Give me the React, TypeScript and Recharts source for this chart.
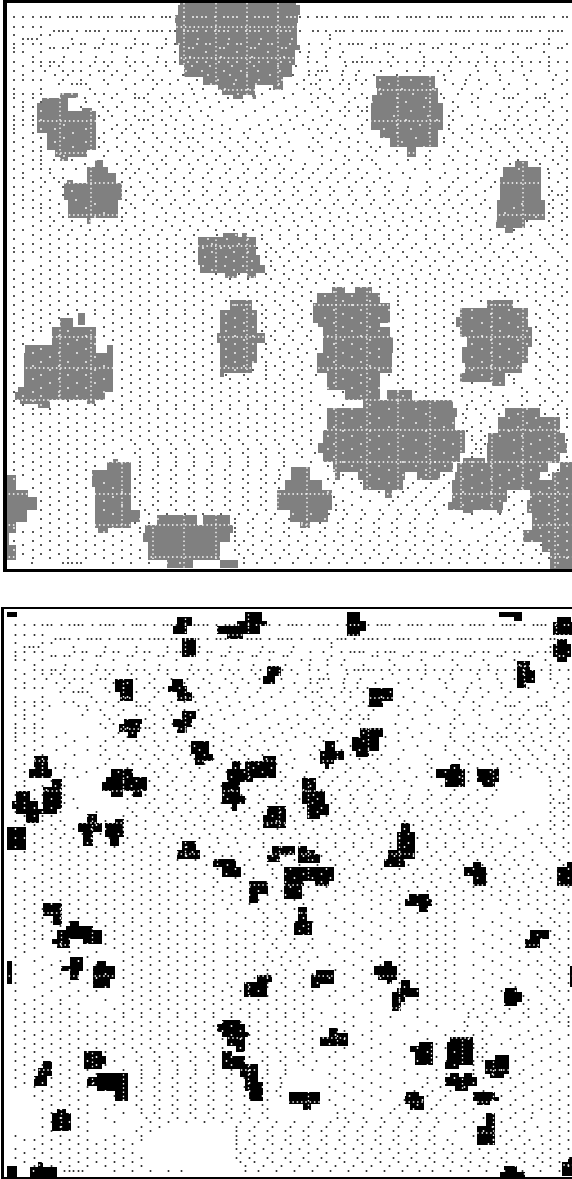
import React from "react";
import { ScatterChart, Scatter, XAxis, YAxis, ReferenceArea, ReferenceLine } from "recharts";

// [y0, y1, x0, x1] spans of the upper (grey) patches
const upperPatches = [
[3,12,180,296],[5,15,178,300],[15,23,175,298],[23,45,176,297],[45,50,179,300],[50,65,179,295],[65,77,184,292],[77,85,203,283],[85,90,218,255],[85,90,273,283],[90,95,222,255],[95,99,233,243],[95,99,252,256],
[76,88,376,435],[88,95,377,438],[95,103,372,438],[103,130,371,443],[130,138,380,438],[138,147,390,438],[147,157,407,416],
[161,167,515,528],[167,177,503,541],[177,200,500,541],[200,220,497,545],[220,228,496,525],[228,233,505,513],
[233,237,223,238],[233,237,242,247],[237,255,198,256],[255,265,198,260],[265,273,200,265],[273,278,225,237],[273,278,247,256],
[93,98,60,78],[98,103,42,68],[103,111,37,68],[108,111,82,92],[111,133,37,96],[133,150,47,96],[150,157,55,87],[157,161,60,68],
[160,167,95,103],[167,173,87,108],[173,183,87,116],[180,183,67,73],[183,200,64,122],[200,218,68,118],[218,224,87,91],
[300,310,230,252],[310,333,220,257],[333,343,217,265],[343,363,220,257],[363,373,220,252],[373,377,220,224],
[313,325,78,85],[318,327,60,73],[327,345,52,96],[345,353,25,96],[345,353,107,113],[353,387,24,113],[387,392,18,113],[392,400,15,105],[400,404,20,50],[400,404,87,95],[404,408,38,50],
[459,462,113,118],[462,470,107,131],[470,487,92,131],[487,510,95,131],[510,522,95,140],[522,528,95,131],[528,533,98,108],
[475,490,5,16],[490,497,5,28],[497,510,5,37],[510,522,5,27],[522,533,5,16],[533,545,5,9],[545,560,5,16],
[515,525,157,197],[515,525,203,230],[525,533,145,233],[533,542,143,230],[542,560,148,220],[560,568,167,193],[560,568,220,238],
[467,480,291,310],[480,490,285,322],[490,510,277,332],[510,522,290,328],[522,528,300,310],
[287,293,332,345],[287,293,355,372],[293,303,317,380],[303,323,313,390],[320,327,318,380],[327,337,323,390],[337,353,323,393],[353,373,317,392],[373,390,327,380],[390,400,345,380],
[390,400,387,412],[400,408,363,453],[408,417,327,457],[417,430,327,455],[430,443,323,465],[443,453,318,465],[453,462,323,460],[462,472,333,453],[472,480,335,340],[472,480,358,405],[472,480,417,440],[480,490,363,403],[490,498,385,392],
[300,308,487,513],[308,317,460,528],[317,327,456,528],[327,337,460,532],[337,347,467,532],[347,363,462,528],[363,373,465,522],[373,382,460,505],[382,386,492,505],
[408,417,505,540],[417,433,498,560],[433,443,488,565],[443,453,487,567],[453,463,487,560],[458,466,463,485],[463,472,457,548],[472,480,455,540],[480,490,452,572],[490,502,452,507],[502,510,448,503],[510,513,463,473],[510,513,497,502],
[462,472,560,572],[472,480,552,572],[490,500,530,572],[500,513,527,572],[513,530,532,572],[530,542,523,572],[542,552,542,572],[552,569,550,572],
];

// [y0, y1, x0, x1] spans of the lower (black) patches
const lowerPatches = [
[612,617,7,17],[617,626,177,192],[626,634,173,187],[638,657,182,196],[612,621,245,262],[621,626,237,267],[626,634,217,260],[634,639,227,243],[666,676,267,281],[676,684,263,275],
[679,692,115,133],[692,701,120,133],[679,686,172,183],[686,692,168,187],[692,701,177,192],[711,719,182,196],[719,727,173,192],[727,733,177,187],[719,724,124,142],[724,732,119,140],[732,738,128,137],
[741,754,191,209],[754,761,195,213],[761,765,195,204],[756,769,34,48],[769,778,29,52],[769,777,111,133],[777,782,106,147],[782,791,102,147],[791,797,111,123],[791,797,133,142],
[779,787,52,62],[787,809,43,62],[809,814,43,57],[791,801,16,30],[801,809,12,38],[809,814,16,43],[814,823,26,39],
[756,769,263,276],[761,769,245,276],[761,769,232,240],[769,778,227,276],[778,782,227,253],[782,796,222,240],[796,804,222,245],[804,811,232,237],
[806,815,267,286],[815,828,263,286],[814,823,87,97],[823,832,78,102],[832,846,83,93],[819,823,115,124],[823,837,105,124],[837,846,110,119],[827,850,7,26],
[841,850,182,196],[850,859,177,200],[846,855,272,295],[855,862,267,280],[859,867,213,236],[867,877,222,241],[881,894,249,268],[894,903,249,258],
[867,881,284,334],[881,886,284,304],[881,886,315,329],[886,899,284,302],
[612,621,347,360],[621,631,347,366],[631,636,347,360],[612,617,499,522],[617,621,514,522],[617,622,557,571],[622,635,553,572],[639,644,557,567],[644,657,553,571],[657,662,557,567],
[661,670,517,530],[670,683,517,535],[683,688,517,526],[688,701,369,393],[701,707,369,383],[728,737,360,383],[737,751,352,379],[751,757,356,369],
[741,751,325,335],[751,760,320,344],[760,764,320,334],[764,769,325,329],[764,769,450,460],[769,778,436,465],[778,787,445,465],[769,782,477,499],[782,787,482,495],
[778,791,302,316],[791,804,302,325],[804,815,307,329],[815,819,307,320],[823,832,401,410],[832,850,397,415],[850,859,388,415],[859,867,384,405],
[846,854,298,307],[850,854,307,315],[854,863,298,320],[862,867,473,481],[867,876,464,486],[876,886,473,486],[862,867,567,572],[867,886,557,572],
[903,916,43,62],[916,925,53,62],[921,926,70,79],[926,930,66,93],[930,939,57,102],[939,944,52,70],[939,944,83,102],[944,948,57,70],[961,984,7,12],
[957,966,70,83],[966,971,61,83],[971,980,70,79],[961,966,97,106],[966,979,93,115],[979,988,93,110],[975,982,257,272],[982,997,244,267],
[1020,1024,222,240],[1024,1032,217,245],[1032,1037,222,249],[1037,1046,227,245],[1046,1052,236,245],
[1051,1056,222,232],[1056,1069,222,245],[1064,1077,240,258],[1077,1091,245,258],[1082,1101,249,263],[1051,1056,84,102],[1056,1064,84,106],[1064,1069,84,102],
[1061,1076,43,52],[1068,1076,38,52],[1076,1086,34,47],[1073,1077,97,128],[1077,1086,87,128],[1086,1091,97,128],[1091,1101,115,128],[1109,1113,57,66],[1113,1131,52,71],[1166,1178,7,17],[1162,1167,38,43],[1167,1178,30,57],[966,987,570,572],
[894,899,409,429],[899,906,405,432],[906,912,419,428],[907,921,298,307],[921,935,294,312],[930,939,530,549],[939,948,525,540],
[961,966,384,392],[966,975,374,397],[975,980,378,397],[980,984,387,392],[970,975,316,334],[975,984,311,334],[984,988,311,320],
[980,988,401,410],[988,997,397,419],[992,1002,392,405],[1002,1011,392,401],[988,992,505,517],[992,1002,504,522],[1002,1006,504,517],
[1028,1033,329,338],[1033,1037,329,348],[1037,1046,320,348],[1042,1046,419,433],[1046,1052,410,433],[1052,1065,415,433],[1037,1042,450,473],[1042,1060,447,473],[1060,1065,445,473],[1065,1069,445,459],
[1055,1060,495,509],[1060,1074,485,509],[1074,1078,490,504],[1073,1077,450,459],[1073,1077,464,472],[1077,1086,445,477],[1086,1091,455,468],
[1092,1104,289,320],[1104,1110,303,311],[1092,1096,406,419],[1096,1104,405,424],[1104,1110,410,424],[1092,1101,473,495],[1097,1101,495,499],[1101,1105,477,490],
[1113,1126,486,495],[1126,1145,477,495],[1166,1172,504,517],[1172,1178,500,525],[1157,1162,568,572],[1162,1176,562,572],
];

// Positions of the dense white hatch lines seen inside the patches
const hatchColumns = [60, 91, 122, 153, 184, 216, 247, 278, 307, 336, 367, 398, 430, 461, 492, 523, 555];
const hatchRows = [27, 58, 90, 121, 153, 183, 215, 246, 277, 305, 337, 368, 400, 430, 462, 494, 525, 557];

// Small marks: [y, x, x, x, ...], read or estimated from the picture (shared texture of both panels)
const markRows = [
[17,14,23,33,41,46,50,60,68,73,77,81,91,99,104,108,112,122,131,135,139,144,153,162,166,170,175,184,193,197,202,206,215,224,228,233,237,247,255,259,264,268,278,287,291,295,300,308,317,322,327,336,345,349,353,357,367,376,380,384,388,398,407,411,416,420,429,438,442,447,451,461,469,473,478,482,492,501,505,509,513,523,532,536,540,544,554,563,567],
[27,14,23,33,41],
[31,54,59,63,68,77,86,90,95,99,108,117,122,126,131,139,148,153,157,162,170,175,184,188,193,197,206,215,219,224,228,237,246,250,255,259,268,277,281,286,290,300,313,318,326,336,340,344,353,362,367,371,376,384,393,398,402,407,416,424,429,433,438,447,456,460,464,469,478,487,491,496,500,509,518,522,527,531,540,549,553,558,562],
[35,14,41,50,330],
[39,23,28,32,37,72,104,135,166,198,229,261,292,330,549],
[44,14,23,33,41,73,81,85,103,112,117,135,143,148,166,175,179,197,206,210,228,237,241,259,268,272,290,309,322,340,349,353,358,362,376,384,389,393,411,420,424,442,451,456,473,482,487,504,513,518,536,544,549,567],
[48,14,50,54,63,68,95,99,126,131,157,162,189,193,220,224,251,255,282,286,330,371,376,402,407,433,438,464,469,496,500,527,531,558,562],
[52,14,23,41,81,112,143,175,206,237,268,300,309,326,343,388,420,451,482,513,544],
[57,33,64,96,127,158,190,221,252,284,308,326,340,362,393,424,456,487,518,549],
[62,14,33,41,50,54,63,73,81,95,104,112,126,135,143,157,166,175,188,197,206,219,228,237,250,259,268,281,290,308,317,345,353,357,362,367,372,380,388,398,407,416,424,433,442,451,460,469,478,487,496,504,513,522,531,540,549,558,567],
[66,23,41,50,59,90,108,130,148,166,192,210,232,254,278,296,326,346,391,424,449,476,495,522,549],
[71,14,33,45,63,73,81,99,104,117,135,153,170,186,202,224,241,258,280,309,318,322,327,343,359,381,407,420,438,451,478,496,513,531,549,567],
[75,23,55,68,90,112,126,148,183,208,230,247,270,293,309,316,342,356,374,397,444,470,500,524,556],
[80,14,23,33,41,63,81,104,122,143,153,162,178,197,218,236,259,282,304,320,330,343,356,366,380,411,445,466,479,500,527,553,567],
[84,59,72,77,81,86,108,135,157,170,189,211,234,256,279,297,311,316,340,349,362,389,422,453,465,487,509,536,562],
[89,14,41,90,126,153,192,203,225,248,270,304,320,333,349,380,402,433,462,481,504,527,553],
[94,14,23,33,41,63,72,95,104,117,135,148,170,183,194,216,238,262,293,311,325,343,362,381,413,441,458,472,496,518,545,567],
[98,14,33,48,77,85,112,135,139,144,162,175,205,228,252,284,318,330,355,367,397,426,444,478,504,509,513,536,540,545,562],
[102,23,41,86,99,122,148,166,183,197,219,243,273,312,333,349,372,406,430,453,472,491,527,549],
[107,14,23,33,81,103,117,135,153,170,189,210,232,264,296,318,345,358,367,397,424,458,478,509,522,544,562],
[111,23,41,108,126,144,162,180,201,223,255,286,305,327,340,349,362,367,411,453,500,518,536,553,567],
[116,14,33,99,112,135,153,171,190,208,246,277,297,322,345,358,394,428,449,462,478,509,527,549],
[120,14,23,33,41,104,126,139,144,148,162,176,193,212,237,268,290,313,331,367,406,437,453,485,505,518,536,553,567],
[125,14,23,33,64,117,131,153,166,184,204,222,259,281,303,327,340,362,397,420,449,472,496,514,530,549,562],
[129,14,41,55,86,112,126,143,175,193,212,230,250,272,294,309,318,345,358,384,411,449,467,482,491,500,505,522,540,558],
[133,14,33,73,104,122,135,153,166,184,203,222,244,263,285,322,336,362,397,429,453,472,496,518,532,549,567],
[138,23,41,64,99,117,139,157,175,188,193,212,230,248,276,313,331,349,384,416,444,462,482,505,522,540,558],
[142,14,33,55,86,104,126,144,162,180,198,220,238,256,267,289,318,340,358,367,402,444,467,487,509,527,544,562],
[147,23,41,73,99,117,135,153,171,189,203,225,243,261,280,309,322,349,371,380,424,453,472,491,514,531,553,567],
[151,14,33,41,108,122,139,157,176,193,212,230,247,265,293,313,336,358,376,397,430,458,481,500,518,536,553,567],
[156,23,41,64,104,131,148,166,184,203,220,239,257,275,285,322,345,367,389,426,449,467,491,509,527,545,562],
[160,14,33,41,54,63,72,96,126,144,162,180,198,216,234,252,270,291,331,349,362,372,408,430,453,476,496,518,536,553,567],
[164,23,41,85,117,131,153,166,189,207,225,243,261,279,305,322,344,376,397,426,444,467,489,510,540,558],
[169,14,33,41,50,63,76,126,139,157,175,193,212,230,248,266,284,303,318,336,358,380,415,430,458,476,496,519,548,567],
[173,23,50,122,135,148,171,190,208,226,244,262,280,296,313,331,349,367,389,403,445,467,487,549,562],
[178,14,23,41,54,63,130,153,166,184,203,220,238,256,275,292,309,327,345,362,380,410,440,458,481,549,567],
[182,33,45,59,122,140,157,175,193,211,230,247,266,284,302,320,338,356,374,392,427,453,476,495,558],
[187,14,23,41,63,131,144,166,184,203,222,240,258,276,294,312,330,349,367,385,408,430,449,467,491,549,567],
[191,33,50,72,126,153,171,189,207,226,244,262,280,298,316,334,352,370,389,407,426,445,462,485,552,567],
[195,14,23,41,63,135,148,166,184,203,220,239,257,275,293,311,330,349,367,385,403,421,440,458,476,549,558,562],
[200,23,33,50,76,126,144,157,175,194,212,230,248,266,284,302,320,338,356,374,393,411,430,449,467,485,553,567],
[204,14,41,59,95,131,153,171,189,207,225,243,261,279,298,316,334,353,371,389,407,426,444,462,481,522,549,562],
[208,23,33,41,50,86,122,135,162,180,199,217,235,253,271,289,307,325,343,362,380,398,416,435,453,472,490,514,553,567],
[213,14,41,59,104,126,144,166,184,203,221,239,257,275,293,311,330,348,366,384,403,421,439,458,476,505,549,562],
[217,23,33,50,63,95,122,135,157,175,193,212,230,248,266,284,302,320,339,357,375,393,412,430,449,467,485,536,553,567],
[221,14,41,54,72,90,104,122,144,166,184,203,221,239,257,276,294,312,330,348,367,385,403,421,439,458,476,496,527,549,562],
[226,33,50,63,81,99,117,135,153,172,190,208,226,244,262,280,298,316,334,353,371,389,407,426,444,462,481,505,531,553],
[230,14,23,41,59,72,90,108,126,144,162,180,198,216,234,253,271,289,307,325,343,361,380,398,416,435,453,471,490,514,540,562],
[235,33,50,68,86,104,122,140,158,176,194,217,236,262,280,298,316,334,352,370,389,407,426,444,462,481,499,522,540,553,567],
[239,14,41,59,77,95,113,131,149,167,185,208,227,248,262,280,298,316,334,352,370,389,403,426,444,462,481,491,514,545,562],
[244,23,33,50,68,86,104,122,140,158,176,191,212,239,267,289,307,325,343,361,380,398,416,435,453,472,490,508,531,549,567],
[248,14,41,59,77,95,113,131,149,167,185,203,221,230,257,271,284,302,320,338,357,375,393,412,430,449,467,485,503,522,553],
[252,14,23,33,50,68,86,104,122,140,158,176,194,212,234,248,266,276,293,311,329,348,366,384,403,421,439,458,476,494,513,531,558],
[257,41,59,77,95,113,131,149,167,185,205,226,243,266,280,298,316,334,352,370,389,407,426,444,462,481,499,517,536,562],
[261,14,23,50,68,86,104,122,140,158,176,194,216,234,252,271,289,307,325,343,362,380,398,416,435,453,472,490,508,527,545,567],
[266,41,59,77,95,113,131,149,167,185,203,225,243,271,284,302,320,338,357,375,393,412,430,449,467,485,503,522,540,558],
[270,14,33,50,68,86,104,122,140,158,176,194,212,234,252,275,293,311,329,348,366,384,403,421,439,458,476,494,513,531,549,567],
[274,23,41,59,77,95,113,131,149,167,185,216,239,266,284,302,320,338,357,375,393,412,430,449,467,485,503,522,540,558],
[279,14,33,50,68,86,104,122,140,158,176,194,212,230,248,271,289,307,325,343,362,380,398,416,435,453,472,490,508,527,545,567],
[283,23,41,59,77,95,113,131,149,167,185,203,221,239,257,280,298,316,334,352,370,389,407,426,444,462,481,499,517,536,553],
[287,14,33,50,68,86,104,122,140,158,176,194,212,230,248,266,284,302,343,361,380,398,416,435,453,472,490,508,527,545,562],
[292,23,41,59,77,95,113,131,149,167,185,203,221,239,257,275,293,311,334,370,389,407,426,444,462,481,499,517,536,553,567],
[296,14,33,50,68,86,104,122,140,158,176,194,212,230,248,266,284,302,325,352,379,398,416,435,453,472,505,527,545,562],
[301,23,41,59,77,95,113,131,149,167,185,203,226,257,275,293,311,343,370,398,426,444,462,481,518,536,553],
[305,14,33,50,68,86,104,122,140,158,176,194,212,235,262,280,298,328,352,380,398,416,435,453,500,540,558,567],
[310,23,41,59,77,95,113,131,149,167,185,203,244,266,284,302,334,361,389,403,426,444,472,509,549],
[314,14,33,50,68,95,113,131,149,167,185,203,226,253,262,275,293,311,343,370,398,416,435,453,491,518,536,553,567],
[318,23,41,59,104,122,140,158,176,194,212,235,266,284,302,325,352,379,403,426,444,472,500,527,540,558],
[323,14,33,50,113,131,149,167,185,203,226,244,262,280,298,334,361,389,416,435,453,482,509,549,567],
[327,23,41,104,122,140,158,176,194,212,235,253,266,284,302,343,370,403,426,444,491,518,536,553],
[331,14,33,41,68,113,131,149,167,185,203,226,244,262,275,293,311,352,379,398,416,435,453,472,500,527,540,558,567],
[336,23,59,86,104,122,140,158,176,194,212,235,253,271,289,307,328,361,403,426,444,482,509,549],
[340,14,33,77,113,131,149,167,185,203,226,244,275,293,311,343,370,398,416,435,453,491,518,536,553,567],
[344,23,68,95,122,140,158,176,194,212,235,253,266,284,302,334,352,403,426,444,472,500,527,540,558],
[349,14,41,86,131,149,167,185,203,226,244,266,280,298,316,361,379,398,416,435,453,482,509,549,567],
[353,33,59,77,122,140,158,176,194,212,235,253,271,289,307,343,370,403,426,444,491,518,536,553],
[357,14,50,95,131,149,167,185,203,226,244,262,280,298,328,352,379,398,416,435,453,472,500,527,540,558,567],
[362,41,68,86,122,140,158,176,194,212,235,253,266,284,302,334,361,403,426,444,482,509,549],
[366,14,33,59,104,131,149,167,185,203,226,244,266,275,293,311,343,370,398,416,435,453,491,518,536,553,567],
[370,50,77,95,122,140,158,176,194,212,235,253,266,284,302,328,352,379,403,426,444,472,500,540,558],
[375,14,41,68,86,131,149,167,185,203,226,244,266,280,298,316,361,389,398,416,435,453,482,509,549,567],
[379,33,59,104,122,140,158,176,194,212,230,248,266,284,302,343,370,403,426,444,491,514,536,553],
[383,14,50,77,95,131,149,167,185,203,221,239,257,275,293,311,334,361,398,416,435,453,472,500,514,540,558,567],
[388,41,68,86,122,140,158,176,194,212,230,248,266,284,302,328,352,379,403,426,444,462,485,522,549],
[392,14,33,59,104,131,149,167,185,203,221,239,257,275,293,311,343,370,398,416,435,453,472,491,527,553,567],
[396,23,41,59,77,122,140,158,176,194,212,230,248,266,284,302,334,361,403,426,444,462,481,503,522,540,558],
[401,14,33,50,68,113,131,149,167,185,203,221,239,257,275,293,311,398,416,435,453,472,490,508,527,545,562],
[405,23,41,59,77,95,122,140,158,176,194,212,230,248,266,284,302,320,343,370,467,485,503,522,540,558],
[409,14,33,50,68,86,104,122,140,158,176,194,212,230,248,266,284,302,334,352,389,416,467,476,494,527,553,567],
[414,23,33,41,50,59,77,95,113,131,149,167,185,203,221,239,257,275,293,311,343,370,426,463,481,499,518,545,558,567],
[418,14,68,86,104,122,140,158,176,194,212,230,248,266,284,302,320,352,379,403,435,466,485,509,536,567],
[423,23,41,59,77,95,113,131,149,167,185,203,221,239,257,275,293,311,343,370,416,453,463,481,527,549],
[427,14,33,50,68,86,104,122,140,158,176,194,212,230,248,266,284,302,334,361,389,444,472,490,518,540,567],
[431,23,41,59,77,95,113,131,149,167,185,203,221,239,257,275,293,311,343,370,426,467,481,509,531,558],
[436,14,33,50,68,86,104,122,140,158,176,194,212,230,248,266,284,302,328,352,379,403,435,472,485,500,522,549],
[440,23,41,59,77,95,113,131,149,167,185,203,221,239,257,275,293,311,343,370,416,444,472,481,514,540,567],
[444,14,33,50,68,86,104,135,153,171,189,207,225,243,261,279,297,311,334,361,389,426,453,476,485,531,558],
[449,23,41,59,77,95,122,140,158,176,194,212,230,248,266,284,302,328,352,379,403,435,476,481,522,549,567],
[453,14,33,50,68,86,113,135,153,171,189,207,225,243,261,279,297,315,343,370,416,444,472,481,514,540,558],
[457,23,41,59,77,95,104,140,158,176,194,212,230,248,266,284,302,334,361,389,426,453,472,531,567],
[462,14,33,50,68,86,122,140,158,176,194,212,230,248,266,284,311,343,370,403,435,472,500,522,549],
[466,23,41,59,77,95,140,158,176,194,212,230,248,266,284,328,352,379,416,445,472,491,518,540,567],
[470,14,33,50,68,86,140,153,171,189,207,225,243,261,279,334,361,389,426,435,453,482,509,531,558],
[475,23,41,59,77,92,140,158,176,194,212,230,248,266,280,343,370,403,426,444,472,500,522,549],
[479,14,33,50,68,86,135,153,171,189,207,225,243,261,279,328,352,379,421,439,463,491,514,540,567],
[483,41,59,77,104,140,158,176,194,212,230,248,266,275,334,361,389,413,431,449,482,509,531,558],
[488,33,50,68,86,113,135,153,171,189,207,225,243,261,279,343,370,408,426,444,472,500,522,549,567],
[492,41,59,77,122,140,158,176,194,212,230,248,266,328,352,379,403,421,439,463,491,514,540,558],
[497,50,68,86,113,135,153,171,189,207,225,243,261,334,361,398,416,435,454,482,509,531,549,567],
[501,41,59,77,104,140,158,176,194,212,230,248,266,343,370,393,412,430,472,500,522,540,558],
[505,50,68,86,122,140,153,171,189,207,225,243,261,336,352,389,407,426,444,463,491,514,531,549,567],
[510,41,59,77,104,145,158,176,194,212,230,248,266,336,344,362,380,398,416,435,454,482,509,530,558],
[514,50,68,86,113,149,167,185,203,221,239,257,275,293,311,329,347,365,383,401,419,437,472,500,523,549,567],
[519,41,59,77,140,158,235,253,271,289,307,325,343,361,379,397,415,433,463,491,514,536,558],
[523,50,68,86,135,149,235,248,266,284,302,320,338,356,374,392,410,428,454,482,505,523,549,567],
[528,14,41,59,77,113,140,235,253,271,289,307,325,343,361,379,397,415,433,472,499,518,540,558],
[532,23,33,50,68,86,104,122,140,235,248,266,284,302,320,338,356,374,392,410,428,446,492,510,528,549,567],
[536,41,59,77,95,113,131,235,253,271,289,307,325,343,361,379,397,415,433,451,487,505,523,541,558],
[541,14,33,50,68,86,104,122,235,244,262,280,298,316,334,352,370,388,406,424,442,460,478,496,514,532,549,567],
[545,23,41,59,77,95,113,131,239,253,271,289,307,325,343,361,379,397,415,433,451,469,487,505,523,541,558],
[550,14,33,50,68,86,104,122,140,235,248,266,284,302,320,338,356,374,392,410,428,446,464,482,500,518,536,549,567],
[554,23,41,59,77,95,113,131,239,253,271,289,307,325,343,361,379,397,415,433,451,469,487,505,523,541,558],
[558,33,50,68,86,104,122,140,244,262,280,298,316,334,352,370,388,406,424,442,460,478,496,514,532,549,567],
[563,32,63,68,72,77,81,113,131,149,167,180,244,257,275,293,311,329,347,365,383,401,418,431,449,467,485,503,521,539,558],
];

const lowerOffset = { x: 1.5, y: 608 };

const inside = (spans: number[][], x: number, y: number) =>
  spans.some(([y0, y1, x0, x1]) => y >= y0 && y <= y1 && x >= x0 && x <= x1);

function buildPoints(dx: number, dy: number) {
  const pts: { x: number; y: number }[] = [];
  for (const [y, ...xs] of markRows) for (const x of xs) pts.push({ x: x + dx, y: y + dy });
  return pts;
}

const markShape = (fill: string, r: number) => (p: any) =>
  <circle cx={p.cx} cy={p.cy} r={r} fill={fill} />;

function Panel({ top, spans, fill, dx, dy }: { top: number; spans: number[][]; fill: string; dx: number; dy: number }) {
  const pts = buildPoints(dx, dy);
  const black = pts.filter((p) => !inside(spans, p.x, p.y));
  const white = pts.filter((p) => inside(spans, p.x, p.y));
  return (
    <div style={{ position: "absolute", left: 0, top }}>
      <ScatterChart width={572} height={572} margin={{ top: 0, right: 0, bottom: 0, left: 0 }}>
        <XAxis type="number" dataKey="x" domain={[0, 572]} hide allowDataOverflow />
        <YAxis type="number" dataKey="y" domain={[top, top + 572]} reversed hide allowDataOverflow />
        {spans.map(([y0, y1, x0, x1], i) => (
          <ReferenceArea key={i} x1={x0} x2={x1} y1={y0} y2={y1} fill={fill} fillOpacity={1} stroke="none" ifOverflow="visible" shapeRendering="crispEdges" />
        ))}
        {hatchColumns.map((x) => (
          <ReferenceLine key={`c${x}`} x={x + dx} stroke="#fff" strokeWidth={1.3} strokeDasharray="1.5 2.8" />
        ))}
        {hatchRows.map((y) => (
          <ReferenceLine key={`r${y}`} y={y + dy} stroke="#fff" strokeWidth={1.3} strokeDasharray="1.5 2.8" />
        ))}
        <Scatter data={black} isAnimationActive={false} shape={markShape("#222", 1)} />
        <Scatter data={white} isAnimationActive={false} shape={markShape("#fff", 0.9)} />
      </ScatterChart>
    </div>
  );
}

const frame = (left: number, top: number, height: number, w: number): React.CSSProperties => ({
  position: "absolute", left, top, width: 572 - left, height, boxSizing: "border-box",
  borderLeft: `${w + 1}px solid #000`, borderTop: `${w}px solid #000`, borderBottom: `${w}px solid #000`, pointerEvents: "none",
});

export default function App() {
  return (
    <div style={{ position: "absolute", left: 0, top: 0, width: 572, height: 1179, overflow: "hidden", background: "#fff" }}>
      <Panel top={0} spans={upperPatches} fill="#808080" dx={0} dy={0} />
      <Panel top={607} spans={lowerPatches} fill="#000" dx={lowerOffset.x} dy={lowerOffset.y} />
      <div style={frame(3, 0, 572, 3)} />
      <div style={frame(1, 607, 572, 2)} />
    </div>
  );
}
